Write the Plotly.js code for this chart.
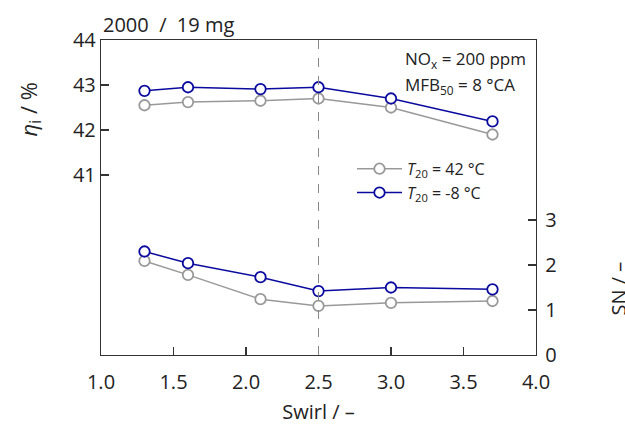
<!DOCTYPE html>
<html>
<head>
<meta charset="utf-8">
<script src="https://cdn.plot.ly/plotly-3.0.1.min.js"></script>
<style>html,body{margin:0;padding:0;background:#fff;}#chart{width:625px;height:425px;}</style>
</head>
<body>
<div id="chart"></div>
<script>
const swirl = [1.3, 1.6, 2.1, 2.5, 3.0, 3.7];
const etaWarm = [42.55, 42.62, 42.65, 42.70, 42.50, 41.90];
const etaCold = [42.87, 42.95, 42.91, 42.95, 42.70, 42.19];
const snWarm = [2.09, 1.78, 1.24, 1.09, 1.16, 1.20];
const snCold = [2.30, 2.04, 1.73, 1.42, 1.50, 1.46];
const seriesNames = ['<i>T</i><sub>20</sub> = 42 °C', '<i>T</i><sub>20</sub> = -8 °C'];
const xTicks = [1.0, 1.5, 2.0, 2.5, 3.0, 3.5, 4.0];
const etaTicks = [41, 42, 43, 44];
const snTicks = [0, 1, 2, 3];

const grey = '#999999';
const blue = '#0a0a9e';
const FONT = 'Open Sans, Noto Sans, sans-serif';
const TXT = '#222';

function tr(x, y, name, color, yaxis, showlegend) {
  return {
    x: x, y: y, name: name, yaxis: yaxis, showlegend: showlegend,
    type: 'scatter', mode: 'lines+markers', cliponaxis: false,
    line: {color: color, width: 1.5},
    marker: {symbol: 'circle', size: 10.5, color: '#ffffff', line: {color: color, width: 1.8}}
  };
}

const data = [
  tr(swirl, etaWarm, seriesNames[0], grey, 'y', true),
  tr(swirl, etaCold, seriesNames[1], blue, 'y', true),
  tr(swirl, snWarm, seriesNames[0], grey, 'y2', false),
  tr(swirl, snCold, seriesNames[1], blue, 'y2', false)
];

const axCommon = {
  showgrid: false, zeroline: false, showline: true, linecolor: '#333', linewidth: 1.2,
  ticks: 'inside', ticklen: 8, tickcolor: '#333', tickwidth: 1.2,
  tickfont: {family: FONT, size: 20, color: TXT}
};

const layout = {
  width: 625, height: 425,
  margin: {l: 101, r: 89, t: 40, b: 70},
  paper_bgcolor: '#fff', plot_bgcolor: '#fff',
  font: {family: FONT, color: TXT},
  showlegend: true,
  legend: {
    x: 0.577, y: 0.645, xanchor: 'left', yanchor: 'top',
    bgcolor: 'rgba(0,0,0,0)', font: {family: FONT, size: 16, color: TXT},
    tracegroupgap: 0, itemwidth: 45
  },
  xaxis: Object.assign({}, axCommon, {
    range: [1.0, 4.0], tickvals: xTicks, ticktext: xTicks.map(v => v.toFixed(1)),
    mirror: true, ticklabelstandoff: 9,
    title: {text: 'Swirl / –', font: {family: FONT, size: 20, color: TXT}, standoff: 10}
  }),
  yaxis: Object.assign({}, axCommon, {
    range: [37.0, 44.0], tickvals: etaTicks, side: 'left'
  }),
  yaxis2: Object.assign({}, axCommon, {
    range: [0, 7.0], tickvals: snTicks, side: 'right', overlaying: 'y', ticklabelstandoff: 4
  }),
  shapes: [{
    type: 'line', xref: 'x', yref: 'paper', x0: 2.5, x1: 2.5, y0: 0, y1: 1,
    line: {color: '#888', width: 1, dash: 'dash'}
  }],
  annotations: [
    {xref: 'paper', yref: 'paper', x: 0, y: 1, xanchor: 'left', yanchor: 'bottom', yshift: 0,
     showarrow: false, text: '2000  /  19 mg', font: {family: FONT, size: 20, color: TXT}},
    {xref: 'paper', yref: 'paper', x: 0.695, y: 0.937, xanchor: 'left', yanchor: 'middle', align: 'left',
     showarrow: false, text: 'NO<sub>x</sub> = 200 ppm',
     font: {family: FONT, size: 17, color: TXT}},
    {xref: 'paper', yref: 'paper', x: 0.695, y: 0.857, xanchor: 'left', yanchor: 'middle', align: 'left',
     showarrow: false, text: 'MFB<sub>50</sub> = 8 °CA',
     font: {family: FONT, size: 17, color: TXT}},
    {xref: 'paper', yref: 'paper', x: -0.163, y: 0.78, xanchor: 'center', yanchor: 'middle', textangle: -90,
     showarrow: false, text: '<i>η</i><sub>i</sub> / %', font: {family: FONT, size: 22, color: TXT}},
    {xref: 'paper', yref: 'paper', x: 1.19, y: 0.21, xanchor: 'center', yanchor: 'middle', textangle: -90,
     showarrow: false, text: 'SN / –', font: {family: FONT, size: 20, color: TXT}}
  ]
};

Plotly.newPlot('chart', data, layout, {displayModeBar: false, staticPlot: true});
</script>
</body>
</html>
